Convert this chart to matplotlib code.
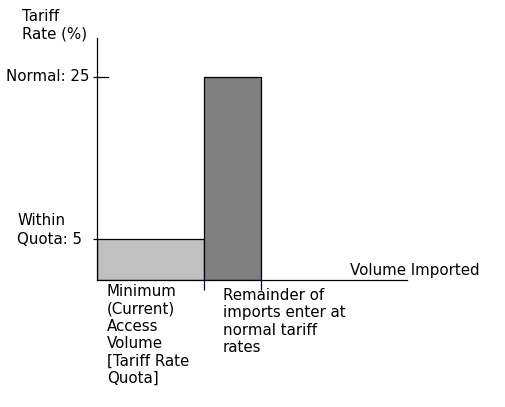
import matplotlib
matplotlib.use("Agg")
import matplotlib.pyplot as plt
import matplotlib.transforms as mtransforms

# data
rates = [5, 25]                 # within quota, normal
edges = [0.0, 1.0, 1.53]        # volume: quota edge, end of remainder
bar_colors = ["#c0c0c0", "#808080"]
x_max = 2.9
y_max = 29.8

W, H = 505, 407
fig = plt.figure(figsize=(W / 100, H / 100), dpi=100)
ax = fig.add_axes([97 / W, 127 / H, 310 / W, 242 / H])

for i in range(2):
    ax.bar(edges[i], rates[i], width=edges[i + 1] - edges[i], align="edge",
           color=bar_colors[i], edgecolor="black", linewidth=0.9)

ax.set_xlim(0, x_max)
ax.set_ylim(0, y_max)
for s in ["top", "right"]:
    ax.spines[s].set_visible(False)
for s in ["left", "bottom"]:
    ax.spines[s].set_linewidth(0.9)

# y ticks
ax.set_yticks(rates)
ax.set_yticklabels(["", ""])
ax.tick_params(axis="y", direction="out", length=3, width=0.9, color="black")
# longer inner tick at the normal rate
ax.plot([0, 11 / 310 * x_max], [rates[1], rates[1]], color="black", lw=0.9, clip_on=False)

# x ticks at bar edges
ax.set_xticks(edges[1:])
ax.set_xticklabels(["", ""])
ax.tick_params(axis="x", direction="out", length=7.5, width=0.9, color="#000060")

fs = 10.8
ls = 1.2
ytrans = mtransforms.blended_transform_factory(ax.transAxes, ax.transData)
ax.text(-7 / 310, rates[1], "Normal: 25", transform=ytrans, ha="right", va="center", fontsize=fs)
ax.text(-80 / 310, rates[0], "Quota: 5", transform=ytrans, ha="left", va="center", fontsize=fs)
ax.annotate("Within", xy=(-80 / 310, rates[0]), xycoords=ytrans,
            xytext=(0, 13.5), textcoords="offset points", ha="left", va="center", fontsize=fs)

fig.text(22 / W, 1 - 9 / H, "Tariff\nRate (%)", ha="left", va="top", fontsize=fs, linespacing=ls)

ax.text(10 / 310, -4 / 242, "Minimum\n(Current)\nAccess\nVolume\n[Tariff Rate\nQuota]",
        transform=ax.transAxes, ha="left", va="top", fontsize=fs, linespacing=ls)
ax.text(126 / 310, -8 / 242, "Remainder of\nimports enter at\nnormal tariff\nrates",
        transform=ax.transAxes, ha="left", va="top", fontsize=fs, linespacing=ls)
ax.text(253 / 310, 2 / 242, "Volume Imported", transform=ax.transAxes,
        ha="left", va="bottom", fontsize=fs)

fig.savefig("out.png", dpi=100)
